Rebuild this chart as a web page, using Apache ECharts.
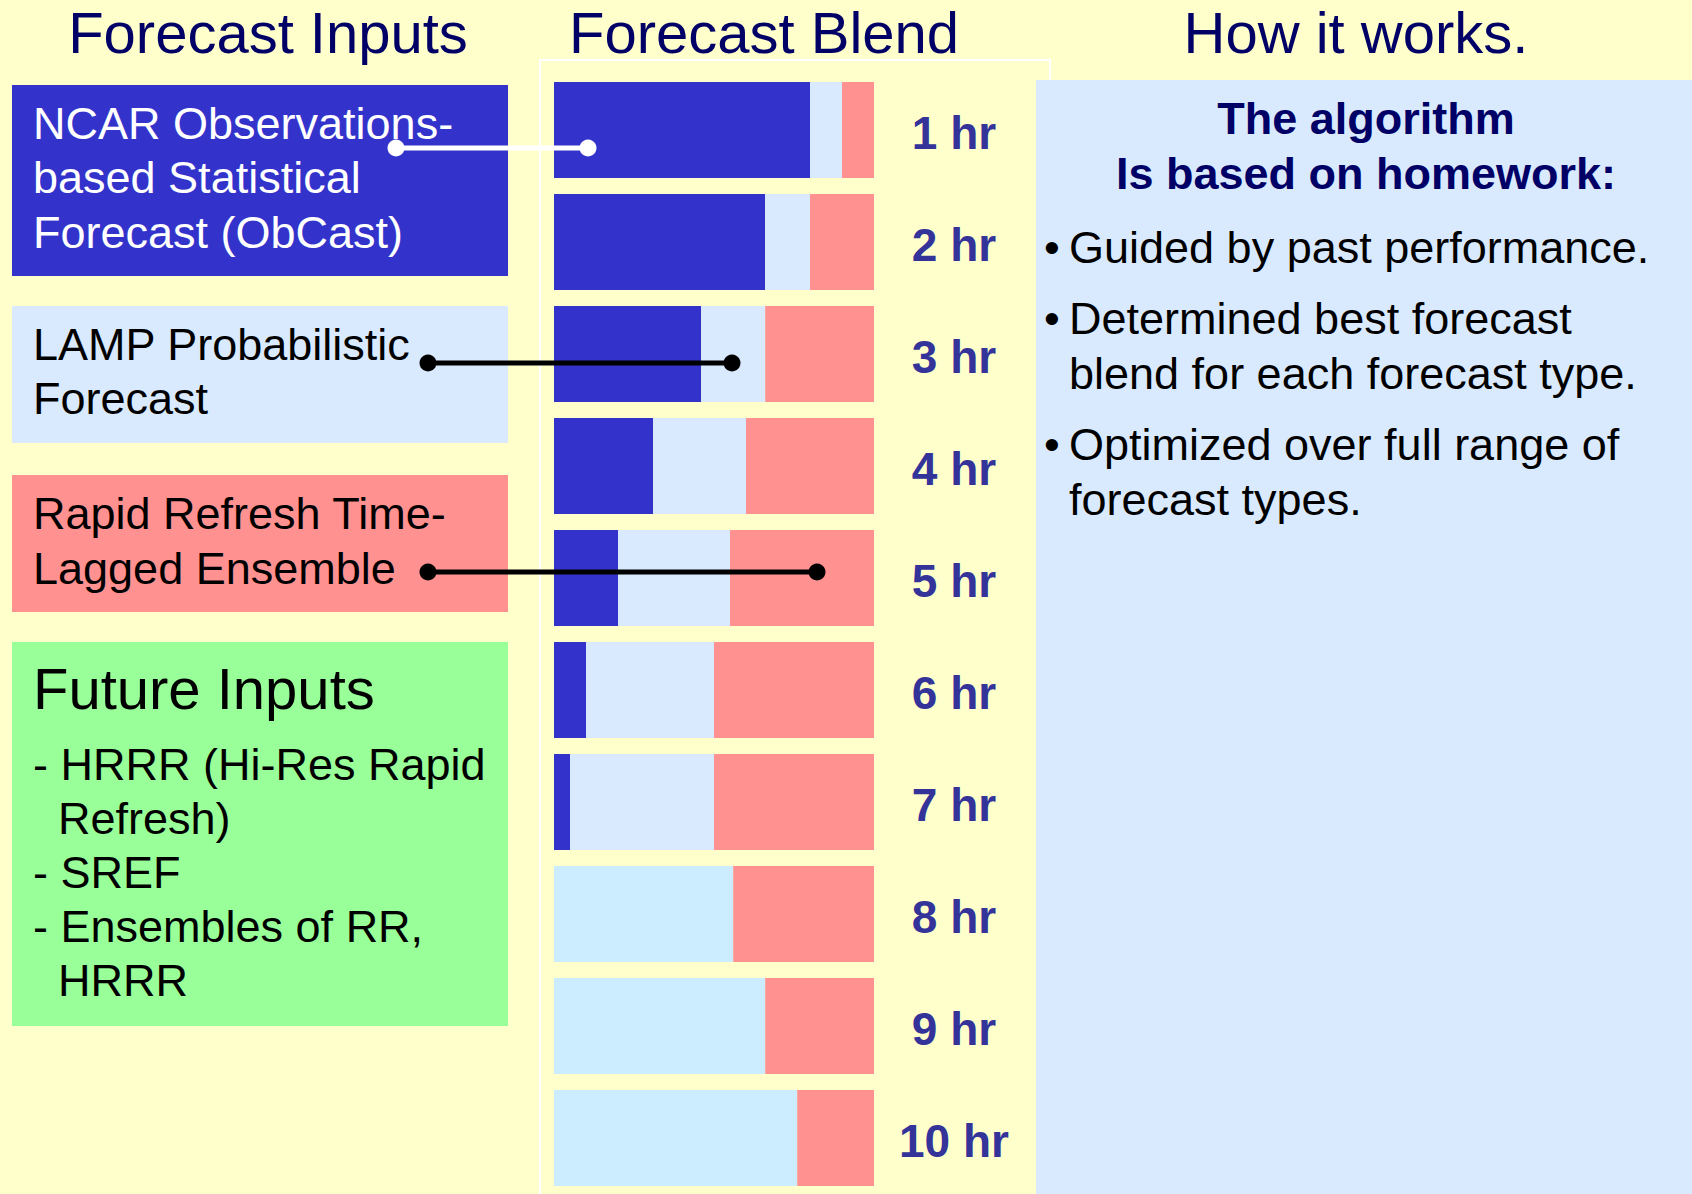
<!DOCTYPE html>
<html>
<head>
<meta charset="utf-8">
<title>Forecast Blend</title>
<script src="https://cdn.jsdelivr.net/npm/echarts@6.0.0/dist/echarts.min.js"></script>
<style>
  * { margin: 0; padding: 0; }
  html, body { width: 1692px; height: 1194px; background: #ffffcc; overflow: hidden; }
  #blendChart { width: 1692px; height: 1194px; }
</style>
</head>
<body>
<div id="blendChart"></div>
<script>
// forecast hours (rows of the blend)
var hours = ['1 hr', '2 hr', '3 hr', '4 hr', '5 hr', '6 hr', '7 hr', '8 hr', '9 hr', '10 hr'];
// blend weights in percent
var obcastShare = [80, 66, 46, 31, 20, 10, 5, 0, 0, 0];
var lampShare = [10, 14, 20, 29, 35, 40, 45, 56, 66, 76];
var rrShare = [10, 20, 34, 40, 45, 50, 50, 44, 34, 24];

var ncarLines = ['NCAR Observations-', 'based Statistical', 'Forecast (ObCast)'];
var lampLines = ['LAMP Probabilistic', 'Forecast'];
var rrLines = ['Rapid Refresh Time-', 'Lagged Ensemble'];
var futureItems = ['- HRRR (Hi-Res Rapid', 'Refresh)', '- SREF', '- Ensembles of RR,', 'HRRR'];
var howHead = ['The algorithm', 'Is based on homework:'];
var howBullets = [
  ['Guided by past performance.'],
  ['Determined best forecast', 'blend for each forecast type.'],
  ['Optimized over full range of', 'forecast types.']
];

var FONT = '"Liberation Sans", Arial, Helvetica, sans-serif';

// text line placed by its baseline (svg central ~ 0.35em above baseline)
function txt(s, x, base, size, color, opts) {
  opts = opts || {};
  var align = opts.align || 'left';
  return {
    type: 'text',
    z: opts.z || 20,
    style: {
      text: s,
      x: x,
      y: base - size * 0.35,
      fill: color,
      font: (opts.bold ? 'bold ' : '') + size + 'px ' + FONT,
      align: align,
      verticalAlign: 'middle',
      textAlign: align,
      textVerticalAlign: 'middle'
    }
  };
}

function box(x, y, w, h, color) {
  return { type: 'rect', z: 5, shape: { x: x, y: y, width: w, height: h }, style: { fill: color } };
}

function connector(x1, x2, y, color) {
  return [
    { type: 'line', z: 100, shape: { x1: x1, y1: y, x2: x2, y2: y }, style: { stroke: color, lineWidth: 5 } },
    { type: 'circle', z: 101, shape: { cx: x1, cy: y, r: 8.5 }, style: { fill: color } },
    { type: 'circle', z: 101, shape: { cx: x2, cy: y, r: 8.5 }, style: { fill: color } }
  ];
}

var graphics = [];
// column titles
graphics.push(txt('Forecast Inputs', 268, 53, 58, '#000066', { align: 'center' }));
graphics.push(txt('Forecast Blend', 764, 53, 58, '#000066', { align: 'center' }));
graphics.push(txt('How it works.', 1356, 53, 58, '#000066', { align: 'center' }));

// thin white frame round the blend
graphics.push({ type: 'rect', z: 0, shape: { x: 540, y: 60, width: 510, height: 1150 }, style: { fill: null, stroke: '#ffffff', lineWidth: 2 } });

// input boxes
graphics.push(box(12, 85, 496, 191, '#3333cc'));
ncarLines.forEach(function (l, i) { graphics.push(txt(l, 33, 139 + i * 54.5, 45, '#ffffff')); });
graphics.push(box(12, 306, 496, 137, '#d9eaff'));
lampLines.forEach(function (l, i) { graphics.push(txt(l, 33, 360 + i * 54, 45, '#000000')); });
graphics.push(box(12, 475, 496, 137, '#ff9191'));
rrLines.forEach(function (l, i) { graphics.push(txt(l, 33, 529 + i * 55, 45, '#000000')); });
graphics.push(box(12, 642, 496, 384, '#99ff99'));
graphics.push(txt('Future Inputs', 33, 709, 58, '#000000'));
futureItems.forEach(function (l, i) {
  var indent = l.charAt(0) === '-' ? 33 : 58;
  graphics.push(txt(l, indent, 780 + i * 54, 45, '#000000'));
});

// right panel
graphics.push(box(1036, 80, 656, 1114, '#d9eaff'));
howHead.forEach(function (l, i) { graphics.push(txt(l, 1366, 134 + i * 55, 45, '#000066', { align: 'center', bold: true })); });
var yb = 263;
howBullets.forEach(function (b) {
  graphics.push(txt('\u2022', 1044, yb, 45, '#000000'));
  b.forEach(function (l, j) { graphics.push(txt(l, 1069, yb + j * 55, 45, '#000000')); });
  yb += b.length * 55 + 16;
});

// connectors from input boxes into the bars
graphics = graphics.concat(connector(396, 588, 148, '#ffffff'));
graphics = graphics.concat(connector(428, 732, 363, '#000000'));
graphics = graphics.concat(connector(428, 817, 572, '#000000'));

var chart = echarts.init(document.getElementById('blendChart'), null, { renderer: 'svg' });
chart.setOption({
  backgroundColor: '#ffffcc',
  animation: false,
  textStyle: { fontFamily: FONT },
  grid: { left: 554, right: 818, top: 74, bottom: 0 },
  xAxis: { type: 'value', min: 0, max: 100, show: false },
  yAxis: {
    type: 'category',
    data: hours,
    inverse: true,
    position: 'right',
    axisLine: { show: false },
    axisTick: { show: false },
    splitLine: { show: false },
    axisLabel: {
      margin: 80,
      align: 'center',
      // nudge the labels a couple of px down onto the bar centres
      verticalAlign: 'top',
      lineHeight: 5,
      interval: 0,
      fontSize: 46,
      fontWeight: 'bold',
      color: '#333399',
      fontFamily: FONT
    }
  },
  series: [
    { name: 'ObCast', type: 'bar', stack: 'blend', barWidth: 96, data: obcastShare, itemStyle: { color: '#3333cc' } },
    {
      name: 'LAMP', type: 'bar', stack: 'blend', barWidth: 96, data: lampShare,
      itemStyle: { color: function (p) { return p.dataIndex >= 7 ? '#ccecff' : '#d9eaff'; } }
    },
    { name: 'RR TLE', type: 'bar', stack: 'blend', barWidth: 96, data: rrShare, itemStyle: { color: '#ff9191' } }
  ],
  graphic: graphics
});
</script>
</body>
</html>
